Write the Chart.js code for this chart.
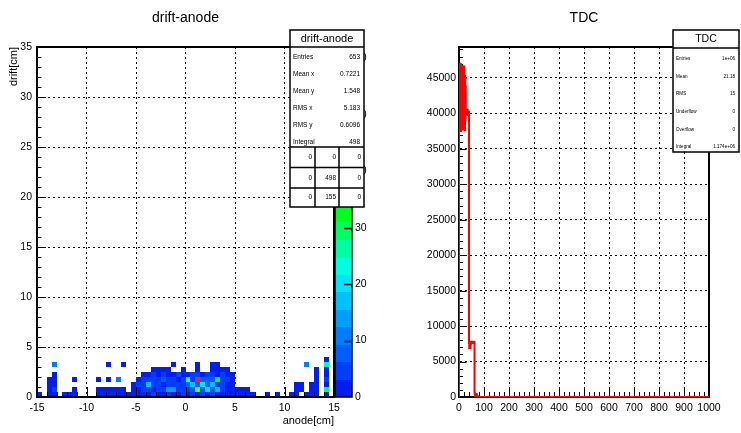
<!DOCTYPE html>
<html>
<head>
<meta charset="utf-8">
<title>drift-anode / TDC</title>
<script src="https://cdn.jsdelivr.net/npm/chart.js@4.4.1/dist/chart.umd.min.js"></script>
<style>
  html, body { margin: 0; padding: 0; background: #fff; }
  #canvas-wrap { position: relative; width: 741px; height: 433px; overflow: hidden; background: #fff; }
  #canvas-wrap canvas { position: absolute; left: 0; top: 0; }
</style>
</head>
<body>
<div id="canvas-wrap">
  <canvas id="driftAnodeCanvas" width="741" height="433"></canvas>
  <canvas id="tdcCanvas" width="741" height="433"></canvas>
</div>
<script>
// ---------- drift vs anode : 2D histogram with 0.5 cm bins ----------
const anodeRange = [-15, 15];
const driftRange = [0, 35];
const cellSize = 0.5;
const anodeTicks = [-15, -10, -5, 0, 5, 10, 15];
const driftTicks = [0, 5, 10, 15, 20, 25, 30, 35];
const colzTicks = [0, 10, 20, 30, 40, 50, 60];
const colzMax = 62;
const colzLevels = 20;

// counts per drift row (row 0 = 0-0.5 cm), one value per 0.5 cm anode bin from -15 cm
const driftRow0 = [1,0,1,1,0,1,2,1,0,0, 0,0,1,1,2,1,1,1,1,2, 2,3,2,4,2,3,5,3,2,4, 3,5,2,6,3,4,2,3,1,2, 1,1,2,1,0,0,1,0,1,0, 0,1,1,0,1,1,2,0,3,0];
const driftRow1 = [0,0,2,4,0,0,0,2,0,0, 0,0,2,3,1,3,2,1,0,2, 3,4,6,3,5,4,15,13,4,6, 5,7,40,9,20,8,18,5,3,2, 2,1,2,0,0,0,0,0,0,0, 0,0,2,1,0,3,2,0,30,0];
const driftRow2 = [0,0,3,2,0,0,0,0,0,0, 0,0,0,0,0,0,0,0,0,2, 4,5,17,4,6,3,5,4,6,5, 8,18,7,19,9,16,6,4,3,2, 0,0,0,0,0,0,0,0,0,0, 0,0,2,2,0,3,2,0,3,0];
const driftRow3 = [0,0,2,3,0,0,0,3,0,0, 0,0,2,0,3,0,10,0,0,0, 3,4,5,6,4,7,4,5,3,6, 22,6,58,8,7,9,32,6,4,3, 0,0,0,0,0,0,0,0,0,0, 0,0,0,0,0,0,3,0,4,0];
const driftRow4 = [0,0,0,2,0,0,0,0,0,0, 0,0,0,0,0,0,0,0,0,0, 0,2,3,5,3,4,2,3,4,2, 3,5,4,3,5,4,3,4,2,1, 0,0,0,0,0,0,0,0,0,0, 0,0,0,0,0,0,2,0,3,0];
const driftRow5 = [0,0,0,0,0,0,0,0,0,0, 0,0,0,0,0,0,0,0,0,0, 0,0,0,2,3,2,2,0,0,1, 0,0,3,0,0,2,3,2,1,0, 0,0,0,0,0,0,0,0,0,0, 0,0,0,0,0,0,2,0,3,0];
const driftRow6 = [0,0,0,12,0,0,0,0,0,0, 0,0,0,0,2,0,0,2,0,0, 0,0,0,0,0,0,0,2,0,0, 0,0,2,0,0,3,2,0,0,0, 0,0,0,0,0,0,0,0,0,0, 0,0,0,0,11,0,0,0,26,0];
const driftRow7 = [0,0,0,0,0,0,0,0,0,0, 0,0,0,0,0,0,0,0,0,0, 0,0,0,0,0,0,0,0,0,0, 0,0,0,0,0,0,0,0,0,0, 0,0,0,0,0,0,0,0,0,0, 0,0,0,0,0,0,0,0,3,0];
const driftRows = [driftRow0, driftRow1, driftRow2, driftRow3, driftRow4, driftRow5, driftRow6, driftRow7];

const driftStatsTitle = 'drift-anode';
const driftStats = [['Entries', '653'], ['Mean x', '0.7221'], ['Mean y', '1.548'], ['RMS x', '5.183'], ['RMS y', '0.6096'], ['Integral', '498']];
const driftOverflow = [['0', '0', '0'], ['0', '498', '0'], ['0', '155', '0']];

// ---------- TDC : 1D histogram with unit bins ----------
const tdcRange = [0, 1000];
const tdcBinWidth = 1;
// bins 0..79; every later bin is empty
const tdcCounts = [
  46500, 38400, 46900, 37800, 45600, 38900, 47000, 37500, 46200, 39200,
  45100, 37900, 46700, 38600, 44900, 37700, 46300, 39400, 45800, 38100,
  46600, 38800, 44600, 37600, 45300, 39000, 43800, 40300, 40100, 40400,
  39900, 40200, 40500, 40000, 40300, 39800, 40200, 40400, 40100, 40200,
  7600, 6900, 7800, 7000, 7700, 6900, 7800, 7500, 7800, 7700,
  7800, 7600, 7800, 7700, 7800, 7600, 7800, 7700, 7800, 7600,
  7800, 7700, 620, 380, 260, 180, 150, 120, 300, 420,
  360, 250, 180, 90, 60, 30, 20, 10, 5, 0
];
const tdcYMax = 49350;
const tdcXTicks = [0, 100, 200, 300, 400, 500, 600, 700, 800, 900, 1000];
const tdcYTicks = [0, 5000, 10000, 15000, 20000, 25000, 30000, 35000, 40000, 45000];
const tdcStatsTitle = 'TDC';
const tdcStats = [['Entries', '1e+06'], ['Mean', '21.18'], ['RMS', '15'], ['Underflow', '0'], ['Overflow', '0'], ['Integral', '1.174e+06']];

// ---------- shared look ----------
const FAMILY = '"Liberation Sans", Arial, Helvetica, sans-serif';
Chart.defaults.font.family = FAMILY;
Chart.defaults.color = '#000';
Chart.defaults.animation = false;

const tickFont = { family: FAMILY, size: 10.5 };
const axisTitleFont = { family: FAMILY, size: 11 };
const gridDash = [2, 3];

// colour palette: hue runs blue -> cyan -> green -> yellow -> red with z
const hueStops = [[0, 236], [10, 213], [20, 187], [25, 165], [30, 140], [34, 120], [40, 90], [46, 60], [50, 40], [56, 10], [62, 0]];
function hueAt(z) {
  for (let i = 1; i < hueStops.length; i++) {
    const [z0, h0] = hueStops[i - 1], [z1, h1] = hueStops[i];
    if (z <= z1) return h0 + (h1 - h0) * (z - z0) / (z1 - z0);
  }
  return 0;
}
function levelColor(i) {
  const z = (i + 0.5) * colzMax / colzLevels;
  return 'hsl(' + hueAt(z).toFixed(1) + ',100%,' + (i === 0 ? 47 : 50) + '%)';
}
function levelOf(v) {
  return Math.min(colzLevels - 1, Math.floor(v / (colzMax / colzLevels)));
}

function fixedTicks(values) {
  return scale => { scale.ticks = values.map(v => ({ value: v })); };
}

// inward tick marks (major + minor) on the bottom or left edge of the frame
function inwardTicks(ctx, scale, area, side, majorStep, minorStep, majorLen, minorLen) {
  ctx.save();
  ctx.strokeStyle = '#000';
  ctx.lineWidth = 1;
  ctx.beginPath();
  const n = Math.floor((scale.max - scale.min) / minorStep + 1e-6);
  for (let i = 0; i <= n; i++) {
    const v = scale.min + i * minorStep;
    const q = v / majorStep;
    const len = Math.abs(q - Math.round(q)) < 1e-6 ? majorLen : minorLen;
    const p = Math.round(scale.getPixelForValue(v)) + 0.5;
    if (side === 'bottom') { ctx.moveTo(p, area.bottom); ctx.lineTo(p, area.bottom - len); }
    else { ctx.moveTo(area.left, p); ctx.lineTo(area.left + len, p); }
  }
  ctx.stroke();
  ctx.restore();
}

function drawFrame(ctx, a) {
  ctx.save();
  ctx.strokeStyle = '#000';
  ctx.lineWidth = 2;
  ctx.strokeRect(a.left, a.top, a.right - a.left, a.bottom - a.top);
  ctx.restore();
}

function drawTitle(ctx, a, text) {
  ctx.save();
  ctx.font = '14px ' + FAMILY;
  ctx.fillStyle = '#000';
  ctx.textAlign = 'center';
  ctx.textBaseline = 'middle';
  ctx.fillText(text, (a.left + a.right) / 2, 18);
  ctx.restore();
}

// stats panel: title strip, label/value rows, optional 3x3 under/overflow table
function drawStats(ctx, box) {
  const { left, right, top, titleBottom, bottom, title, titleSize, rows, rowYs, rowSize, table, tableTop, tableRows, tableCols } = box;
  ctx.save();
  ctx.fillStyle = '#fff';
  ctx.fillRect(left, top, right - left, bottom - top);
  ctx.strokeStyle = '#000';
  ctx.lineWidth = 1.5;
  ctx.strokeRect(left, top, right - left, bottom - top);
  ctx.beginPath();
  ctx.moveTo(left, titleBottom); ctx.lineTo(right, titleBottom);
  if (table) {
    tableRows.forEach(y => { ctx.moveTo(left, y); ctx.lineTo(right, y); });
    tableCols.forEach(x => { ctx.moveTo(x, tableTop); ctx.lineTo(x, bottom); });
  }
  ctx.stroke();

  ctx.fillStyle = '#000';
  ctx.textBaseline = 'middle';
  ctx.textAlign = 'center';
  ctx.font = titleSize + 'px ' + FAMILY;
  ctx.fillText(title, (left + right) / 2, (top + titleBottom) / 2 + 0.5);

  ctx.font = rowSize + 'px ' + FAMILY;
  rows.forEach(([label, value], i) => {
    ctx.textAlign = 'left';
    ctx.fillText(label, left + 3, rowYs[i]);
    ctx.textAlign = 'right';
    ctx.fillText(value, right - 4, rowYs[i]);
  });

  if (table) {
    const edges = [left].concat(tableCols, [right]);
    const yEdges = tableRows.concat([bottom]);
    table.forEach((row, r) => {
      const yc = (yEdges[r] + yEdges[r + 1]) / 2;
      row.forEach((val, c) => {
        ctx.textAlign = 'right';
        ctx.fillText(val, edges[c + 1] - 3, yc);
      });
    });
  }
  ctx.restore();
}

// ---------- drift-anode chart ----------
const driftCells = [];
driftRows.forEach((row, r) => row.forEach((n, k) => {
  if (n > 0) driftCells.push({ x: anodeRange[0] + (k + 0.5) * cellSize, y: driftRange[0] + (r + 0.5) * cellSize, v: n });
}));

const colzPlugin = {
  id: 'colz',
  afterDatasetsDraw(chart) {
    const { ctx, chartArea: a, scales: { x, y, z } } = chart;
    // cells
    ctx.save();
    ctx.beginPath();
    ctx.rect(a.left, a.top, a.right - a.left, a.bottom - a.top);
    ctx.clip();
    chart.data.datasets[0].data.forEach(c => {
      const x0 = Math.round(x.getPixelForValue(c.x - cellSize / 2));
      const x1 = Math.round(x.getPixelForValue(c.x + cellSize / 2));
      const y0 = Math.round(y.getPixelForValue(c.y + cellSize / 2));
      const y1 = Math.round(y.getPixelForValue(c.y - cellSize / 2));
      ctx.fillStyle = levelColor(levelOf(c.v));
      ctx.fillRect(x0, y0, x1 - x0, y1 - y0);
    });
    ctx.restore();

    // axis ticks and frame
    inwardTicks(ctx, x, a, 'bottom', 5, 1, 10, 5);
    inwardTicks(ctx, y, a, 'left', 5, 1, 9, 4.5);
    drawFrame(ctx, a);

    // colour scale
    const pl = a.right + 1, pw = 17;
    ctx.save();
    const step = colzMax / colzLevels;
    for (let i = 0; i < colzLevels; i++) {
      const yt = Math.round(z.getPixelForValue((i + 1) * step));
      const yb = Math.round(z.getPixelForValue(i * step));
      ctx.fillStyle = levelColor(i);
      ctx.fillRect(pl, yt, pw, yb - yt);
    }
    ctx.strokeStyle = '#000';
    ctx.lineWidth = 1.5;
    ctx.strokeRect(pl, a.top, pw, a.bottom - a.top);
    ctx.beginPath();
    colzTicks.forEach(v => {
      if (v <= 0) return;
      const p = Math.round(z.getPixelForValue(v)) + 0.5;
      ctx.moveTo(pl + pw - 8, p); ctx.lineTo(pl + pw, p);
    });
    ctx.lineWidth = 1.5;
    ctx.stroke();
    ctx.restore();
  },
  afterDraw(chart) {
    const { ctx, chartArea: a } = chart;
    drawTitle(ctx, a, driftStatsTitle);
    drawStats(ctx, {
      left: 290, right: 364, top: 30, titleBottom: 47, bottom: 207,
      title: driftStatsTitle, titleSize: 11,
      rows: driftStats, rowYs: [57.5, 74.5, 91.5, 108.5, 125.5, 142.5], rowSize: 6.5,
      table: driftOverflow, tableTop: 147, tableRows: [147, 167.5, 188], tableCols: [315, 339]
    });
  }
};

new Chart(document.getElementById('driftAnodeCanvas'), {
  type: 'scatter',
  data: { datasets: [{ data: driftCells, pointRadius: 0, pointHoverRadius: 0, showLine: false }] },
  options: {
    responsive: false,
    devicePixelRatio: 1,
    events: [],
    layout: { padding: { left: 0, top: 47, right: 367, bottom: 0 } },
    plugins: { legend: { display: false }, tooltip: { enabled: false } },
    scales: {
      x: {
        type: 'linear', position: 'bottom', min: anodeRange[0], max: anodeRange[1],
        afterFit: s => { s.height = 36; },
        afterBuildTicks: fixedTicks(anodeTicks),
        ticks: { font: tickFont, color: '#000', padding: 5, maxRotation: 0, autoSkip: false, callback: v => String(v) },
        grid: { color: '#000', lineWidth: 1, drawTicks: false },
        border: { display: true, color: '#000', width: 2, dash: gridDash },
        title: { display: true, text: 'anode[cm]', align: 'end', font: axisTitleFont, color: '#000', padding: { top: 0, bottom: 5 } }
      },
      y: {
        type: 'linear', position: 'left', min: driftRange[0], max: driftRange[1],
        afterFit: s => { s.width = 37; },
        afterBuildTicks: fixedTicks(driftTicks),
        ticks: { font: tickFont, color: '#000', padding: 5, autoSkip: false, callback: v => String(v) },
        grid: { color: '#000', lineWidth: 1, drawTicks: false },
        border: { display: true, color: '#000', width: 2, dash: gridDash },
        title: { display: true, text: 'drift[cm]', align: 'end', font: axisTitleFont, color: '#000', padding: { top: 7, bottom: 0 } }
      },
      z: {
        type: 'linear', axis: 'y', position: 'right', min: 0, max: colzMax,
        afterFit: s => { s.width = 40; },
        afterBuildTicks: fixedTicks(colzTicks),
        ticks: { font: tickFont, color: '#000', padding: 21, autoSkip: false, callback: v => String(v) },
        grid: { display: false, drawTicks: false },
        border: { display: false }
      }
    }
  },
  plugins: [colzPlugin]
});

// ---------- TDC chart ----------
const tdcPoints = [{ x: tdcRange[0], y: 0 }];
tdcCounts.forEach((c, i) => tdcPoints.push({ x: tdcRange[0] + i * tdcBinWidth, y: c }));
tdcPoints.push({ x: tdcRange[0] + tdcCounts.length * tdcBinWidth, y: 0 });
tdcPoints.push({ x: tdcRange[1], y: 0 });

const tdcPlugin = {
  id: 'tdcDecor',
  beforeDatasetsDraw(chart) {
    const { ctx, chartArea: a, scales: { x, y } } = chart;
    drawFrame(ctx, a);
    // ticks sit under the histogram line, which runs along the bottom edge
    inwardTicks(ctx, x, a, 'bottom', 100, 20, 10, 5);
    inwardTicks(ctx, y, a, 'left', 5000, 1000, 7.5, 4);
  },
  afterDraw(chart) {
    const { ctx, chartArea: a } = chart;
    drawTitle(ctx, a, tdcStatsTitle);
    drawStats(ctx, {
      left: 673, right: 739, top: 30, titleBottom: 48, bottom: 152,
      title: tdcStatsTitle, titleSize: 10.5,
      rows: tdcStats, rowYs: [58.5, 76.5, 93.5, 111.5, 130, 146.5], rowSize: 4.6
    });
  }
};

new Chart(document.getElementById('tdcCanvas'), {
  type: 'line',
  data: {
    datasets: [{
      data: tdcPoints, stepped: true, borderColor: '#ff0000', borderWidth: 2,
      pointRadius: 0, pointHoverRadius: 0, fill: false, tension: 0
    }]
  },
  options: {
    responsive: false,
    devicePixelRatio: 1,
    events: [],
    layout: { padding: { left: 419, top: 47, right: 32, bottom: 0 } },
    plugins: { legend: { display: false }, tooltip: { enabled: false } },
    scales: {
      x: {
        type: 'linear', position: 'bottom', min: tdcRange[0], max: tdcRange[1],
        afterFit: s => { s.height = 36; },
        afterBuildTicks: fixedTicks(tdcXTicks),
        ticks: { font: tickFont, color: '#000', padding: 5, maxRotation: 0, autoSkip: false, callback: v => String(v) },
        grid: { color: '#000', lineWidth: 1, drawTicks: false },
        border: { display: true, color: '#000', width: 2, dash: gridDash }
      },
      y: {
        type: 'linear', position: 'left', min: 0, max: tdcYMax,
        afterFit: s => { s.width = 40; },
        afterBuildTicks: fixedTicks(tdcYTicks),
        ticks: { font: tickFont, color: '#000', padding: 3, autoSkip: false, callback: v => String(v) },
        grid: { color: '#000', lineWidth: 1, drawTicks: false },
        border: { display: true, color: '#000', width: 2, dash: gridDash }
      }
    }
  },
  plugins: [tdcPlugin]
});
</script>
</body>
</html>
